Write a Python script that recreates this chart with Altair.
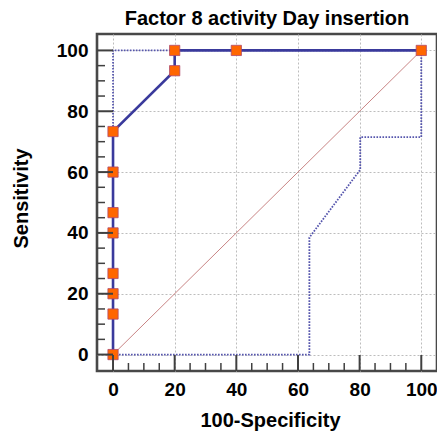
import altair as alt
import pandas as pd

# ROC curve (empirical) points
roc_x = [0, 0, 0, 0, 0, 0, 0, 0, 20, 20, 40, 100]
roc_y = [0, 13.33, 20, 26.67, 40, 46.67, 60, 73.33, 93.33, 100, 100, 100]

# Confidence bounds
up_x = [0, 0, 100]
up_y = [0, 100, 100]
lo_x = [0, 63.7, 63.7, 80.2, 80.2, 100, 100]
lo_y = [0, 0, 38.5, 60.8, 71.5, 71.5, 100]

# Diagonal reference
diag_x = [0, 100]
diag_y = [0, 100]

major_ticks = [0, 20, 40, 60, 80, 100]
minor_ticks = [5, 10, 15, 25, 30, 35, 45, 50, 55, 65, 70, 75, 85, 90, 95]

W, H = 340, 337
FONT = "Liberation Sans"

roc = pd.DataFrame({"x": roc_x, "y": roc_y, "o": list(range(len(roc_x)))})
up = pd.DataFrame({"x": up_x, "y": up_y, "o": list(range(len(up_x)))})
lo = pd.DataFrame({"x": lo_x, "y": lo_y, "o": list(range(len(lo_x)))})
diag = pd.DataFrame({"x": diag_x, "y": diag_y})
maj = pd.DataFrame({"v": major_ticks})
mnr = pd.DataFrame({"v": minor_ticks})

xs = alt.Scale(domain=[-5.2, 105.1], nice=False, zero=False)
ys = alt.Scale(domain=[-5.4, 105.4], nice=False, zero=False)

xaxis = alt.Axis(values=major_ticks, title="100-Specificity", grid=True,
                 gridDash=[2, 2], gridColor="#bdbdbd", gridWidth=1,
                 ticks=False, tickSize=0, domain=False,
                 labelFont=FONT, labelFontSize=19, labelFontWeight="bold",
                 labelColor="black", labelPadding=9,
                 titleFont=FONT, titleFontSize=20, titleFontWeight="bold",
                 titleColor="black", titleX=173, titleY=55,
                 titleBaseline="alphabetic")
yaxis = alt.Axis(values=major_ticks, title="Sensitivity", grid=True,
                 gridDash=[2, 2], gridColor="#bdbdbd", gridWidth=1,
                 ticks=False, tickSize=0, domain=False,
                 labelFont=FONT, labelFontSize=19, labelFontWeight="bold",
                 labelColor="black", labelPadding=9,
                 titleFont=FONT, titleFontSize=20, titleFontWeight="bold",
                 titleColor="black", titleX=-70, titleY=164, titleAngle=-90,
                 titleBaseline="alphabetic", titleAlign="center")

base_grid = alt.Chart(diag).mark_point(opacity=0).encode(
    x=alt.X("x:Q", scale=xs, axis=xaxis),
    y=alt.Y("y:Q", scale=ys, axis=yaxis),
)

diag_line = alt.Chart(diag).mark_line(color="#c98585", strokeWidth=1).encode(
    x=alt.X("x:Q", scale=xs), y=alt.Y("y:Q", scale=ys))

up_line = alt.Chart(up).mark_line(color="#5656ad", strokeWidth=1.8,
                                  strokeDash=[1.6, 1.4]).encode(
    x=alt.X("x:Q", scale=xs), y=alt.Y("y:Q", scale=ys), order="o:Q")
lo_line = alt.Chart(lo).mark_line(color="#5656ad", strokeWidth=1.8,
                                  strokeDash=[1.6, 1.4]).encode(
    x=alt.X("x:Q", scale=xs), y=alt.Y("y:Q", scale=ys), order="o:Q")

roc_line = alt.Chart(roc).mark_line(color="#3a3a9c", strokeWidth=2.6).encode(
    x=alt.X("x:Q", scale=xs), y=alt.Y("y:Q", scale=ys), order="o:Q")
roc_pts = alt.Chart(roc).mark_square(size=105, filled=True, color="#ff6600",
                                     stroke="#b0486a", strokeWidth=0.8,
                                     opacity=1).encode(
    x=alt.X("x:Q", scale=xs), y=alt.Y("y:Q", scale=ys))

tick_color = "#404040"
y_major = alt.Chart(maj).mark_rule(color=tick_color, strokeWidth=2).encode(
    y=alt.Y("v:Q", scale=ys), x=alt.value(0), x2=alt.value(16))
y_minor = alt.Chart(mnr).mark_rule(color=tick_color, strokeWidth=1.5).encode(
    y=alt.Y("v:Q", scale=ys), x=alt.value(0), x2=alt.value(8))
x_major = alt.Chart(maj).mark_rule(color=tick_color, strokeWidth=2).encode(
    x=alt.X("v:Q", scale=xs), y=alt.value(H), y2=alt.value(H - 16))
x_minor = alt.Chart(mnr).mark_rule(color=tick_color, strokeWidth=1.5).encode(
    x=alt.X("v:Q", scale=xs), y=alt.value(H), y2=alt.value(H - 8))

chart = alt.layer(
    base_grid, diag_line, up_line, lo_line, roc_line, roc_pts,
    y_major, y_minor, x_major, x_minor,
).properties(
    width=W, height=H,
    title=alt.TitleParams("Factor 8 activity Day insertion", font=FONT,
                          fontSize=20, fontWeight="bold", color="black",
                          anchor="middle", offset=5),
    autosize=alt.AutoSizeParams(type="none"),
    padding={"left": 89, "top": 26, "right": 0, "bottom": 60},
).configure_view(
    stroke="#484848", strokeWidth=2.6
).configure_scale(continuousPadding=0)

chart.save("out.html", embed_options={"renderer": "svg", "actions": False})
